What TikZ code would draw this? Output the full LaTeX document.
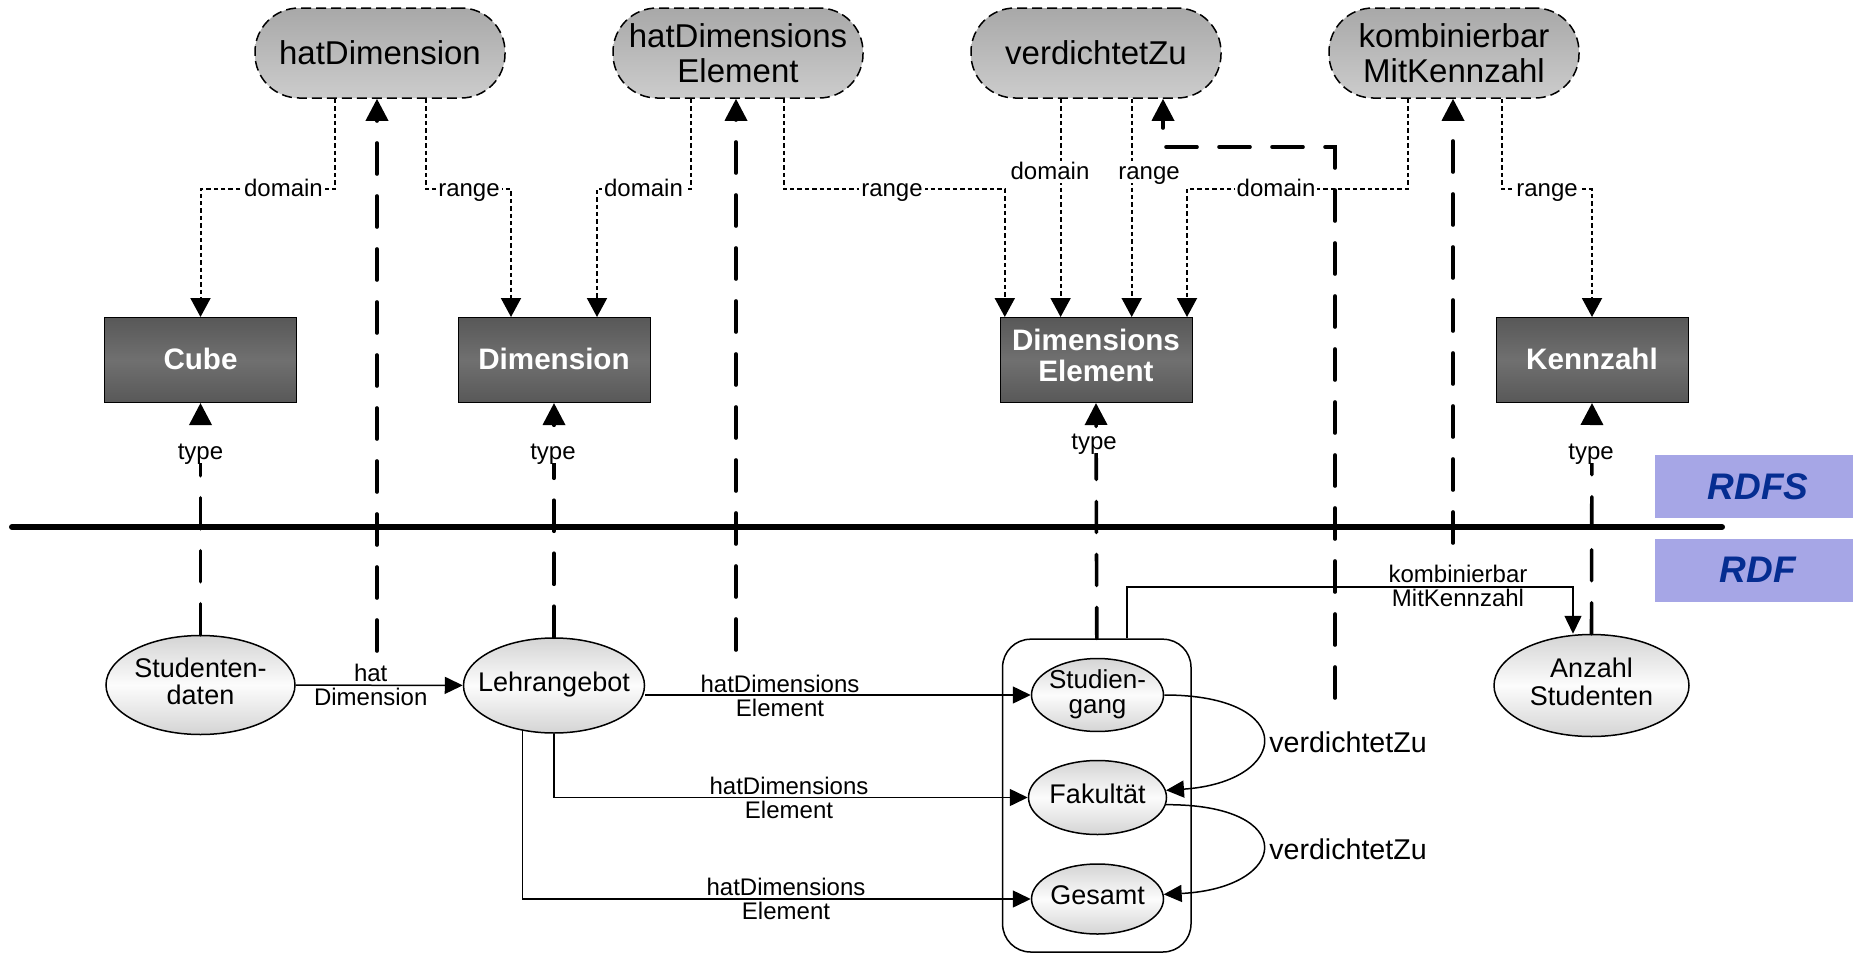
\documentclass[tikz,border=0pt]{standalone}
\usepackage{fontspec}
\setmainfont{Liberation Sans}
\usetikzlibrary{arrows.meta,shapes.geometric}

\definecolor{tnTop}{RGB}{168,168,168}
\definecolor{tnBot}{RGB}{204,204,204}
\definecolor{dbOut}{RGB}{88,88,88}
\definecolor{dbMid}{RGB}{112,112,112}
\definecolor{elOut}{RGB}{212,212,212}
\definecolor{elMid}{RGB}{252,252,252}
\definecolor{rdfFill}{RGB}{166,166,230}
\definecolor{rdfText}{RGB}{5,45,145}

\newcommand{\zb}[1]{\makebox[0pt]{\begin{tabular}{@{}c@{}}#1\end{tabular}}}

\tikzset{
  prop/.style={rectangle, rounded corners=22pt, draw=black, line width=0.75pt,
    dash pattern=on 5pt off 2.5pt, top color=tnTop, bottom color=tnBot,
    minimum width=125pt, minimum height=45pt, inner sep=0pt, align=center,
    font=\fontsize{16.5}{17.5}\selectfont},
  cls/.style={rectangle, draw=black, line width=0.5pt, top color=dbOut, bottom color=dbOut,
    middle color=dbMid, minimum width=96pt, minimum height=42.5pt, inner sep=0pt,
    align=center, text=white, font=\fontsize{14.8}{15.5}\selectfont\bfseries},
  inst/.style={ellipse, draw=black, line width=0.75pt, top color=elOut, bottom color=elOut,
    middle color=elMid, inner sep=0pt, font=\fontsize{13.5}{13}\selectfont},
  container/.style={rectangle, draw=black, line width=0.75pt, rounded corners=14pt, inner sep=0pt},
  rdfbox/.style={rectangle, fill=rdfFill, minimum width=99pt, minimum height=31.5pt,
    inner sep=0pt, text=rdfText, font=\fontsize{18.5}{18.5}\selectfont\bfseries\itshape},
  edge/.style={line width=0.75pt, -{Triangle[length=9pt,width=8.5pt]}},
  dom/.style={line width=1pt, dash pattern=on 2.2pt off 1.5pt, -{Triangle[length=9.5pt,width=10pt]}},
  thick inst/.style={line width=1.8pt, line cap=round, dash pattern=on 15.5pt off 11pt,
    -{Triangle[length=11pt,width=11pt]}},
  dlab/.style={fill=white, inner xsep=1pt, inner ysep=0pt, text height=9pt, text depth=2pt,
    font=\fontsize{12}{12}\selectfont},
  elab/.style={align=center, inner sep=0pt, font=\fontsize{12}{12}\selectfont},
  vlab/.style={inner sep=0pt, font=\fontsize{14.3}{15}\selectfont},
}

\begin{document}
\begin{tikzpicture}[x=0.5pt, y=-0.5pt]
\useasboundingbox (0,0) rectangle (1853,953);
\fill[white] (0,0) rectangle (1853,953);

% RDFS / RDF boxes
\node[rdfbox] (rdfs) at (1754,486.5) {\hspace{4pt}RDFS};
\node[rdfbox] (rdf) at (1754,570) {\hspace{4pt}RDF};

% layer divider
\draw[line width=3pt, line cap=round] (12,527) -- (1722,527);

% property nodes
\node[prop] (hd) at (380,53) {hatDimension};
\node[prop] (hde) at (738,53) {hatDimensions\\Element};
\node[prop] (vz) at (1096,53) {verdichtetZu};
\node[prop] (km) at (1454,53) {kombinierbar\\MitKennzahl};

% class nodes
\node[cls] (cube) at (200.5,360) {\raisebox{1.5pt}{Cube}};
\node[cls] (dim) at (554,360) {\raisebox{1.5pt}{Dimension}};
\node[cls] (de) at (1096,360) {\raisebox{1.5pt}{\begin{tabular}{@{}c@{}}Dimensions\\Element\end{tabular}}};
\node[cls] (kz) at (1592,360) {\raisebox{1.5pt}{Kennzahl}};

% container and instances
\node[container, minimum width=94.2pt, minimum height=156.4pt] (cont) at (1096.8,795.6) {};
\node[inst, minimum width=94.5pt, minimum height=49.5pt] (sd) at (200.5,685) {\zb{Studenten-\\daten}};
\node[inst, minimum width=90.5pt, minimum height=47.5pt] (la) at (554,685.5) {\zb{Lehrangebot}};
\node[inst, minimum width=97.5pt, minimum height=51pt] (as) at (1591.5,685.5) {\zb{Anzahl\\Studenten}};
\node[inst, minimum width=66pt, minimum height=35pt, font=\fontsize{13}{12.6}\selectfont] (sg) at (1097.5,695) {\zb{Studien-\\gang}};
\node[inst, minimum width=69pt, minimum height=37pt] (fk) at (1097.5,797.5) {\zb{Fakultät}};
\node[inst, minimum width=66pt, minimum height=35pt] (gs) at (1097.5,899) {\zb{Gesamt}};

% free ends of the instance-level property lines
\coordinate (hdI) at (377,651);
\coordinate (hdeI) at (736,650);
\coordinate (vzI) at (1335,698);
\coordinate (vzK) at (1163,147);
\coordinate (kmI) at (1453,543);
\coordinate (kmC) at (1573,587);
\coordinate (yd) at (0,189);

% type lines
\draw[thick inst] (sd.north) -- (cube.south);
\draw[thick inst] (la.north) -- (dim.south);
\draw[thick inst] (cont.north) -- (de.south);
\draw[thick inst] (as.north) -- (kz.south);

% instance-to-property lines
\draw[thick inst] (hdI) -- (hdI |- hd.south);
\draw[thick inst] (hdeI) -- (hdeI |- hde.south);
\draw[thick inst] (vzI) |- (vzK) -- (vzK |- vz.south);
\draw[thick inst] (kmI) -- (kmI |- km.south);

% domain / range
\draw[dom] ([xshift=-22.5pt]hd.south) |- (cube.north |- yd) -- (cube.north);
\draw[dom] ([xshift=23pt]hd.south) |- ([xshift=-21.5pt]dim.north |- yd) -- ([xshift=-21.5pt]dim.north);
\draw[dom] ([xshift=-23.5pt]hde.south) |- ([xshift=21.5pt]dim.north |- yd) -- ([xshift=21.5pt]dim.north);
\draw[dom] ([xshift=23pt]hde.south) |- ([xshift=-45.6pt]de.north |- yd) -- ([xshift=-45.6pt]de.north);
\draw[dom] ([xshift=-17.7pt]vz.south) -- ([xshift=-17.7pt]de.north);
\draw[dom] ([xshift=17.85pt]vz.south) -- ([xshift=17.85pt]de.north);
\draw[dom] ([xshift=-23.25pt]km.south) |- ([xshift=45.5pt]de.north |- yd) -- ([xshift=45.5pt]de.north);
\draw[dom] ([xshift=24pt]km.south) |- (kz.north |- yd) -- (kz.north);

\node[dlab] (l1) at (283.5,189) {domain};
\node[dlab] (l2) at (469,189) {range};
\node[dlab] (l3) at (643.5,189) {domain};
\node[dlab] (l4) at (892,189) {range};
\node[dlab] (l5) at (1050,172) {domain};
\node[dlab] (l6) at (1149,172) {range};
\node[dlab] (l7) at (1276,189) {domain};
\node[dlab] (l8) at (1547,189) {range};

\node[dlab] (t1) at (200.5,452) {type};
\node[dlab] (t2) at (553,452) {type};
\node[dlab] (t3) at (1094,442) {type};
\node[dlab] (t4) at (1591,452) {type};

% instance level edges
\draw[edge] (sd) -- (la);
\node[elab] (e1) at (370.7,685) {hat\\Dimension};
\draw[edge] (la.east |- sg.west) -- (sg.west);
\node[elab] (e2) at (780,695.5) {hatDimensions\\Element};
\draw[edge] (la.south) |- (fk.west);
\node[elab] (e3) at (789,797.5) {hatDimensions\\Element};
\draw[edge] (la.235) |- (gs.west);
\node[elab] (e4) at (786,899) {hatDimensions\\Element};

\draw[edge] (sg.east) .. controls (1300,695) and (1290,782) .. (fk.6);
\node[vlab] (v1) at (1348,742) {verdichtetZu};
\draw[edge] (fk.-6) .. controls (1300,804) and (1290,888) .. (gs.4);
\node[vlab] (v2) at (1348,849) {verdichtetZu};

\draw[edge] ([xshift=15pt]cont.north) |- (kmC) -- (kmC |- as.north);
\node[elab] (e5) at (1458,586) {kombinierbar\\MitKennzahl};
\end{tikzpicture}
\end{document}
